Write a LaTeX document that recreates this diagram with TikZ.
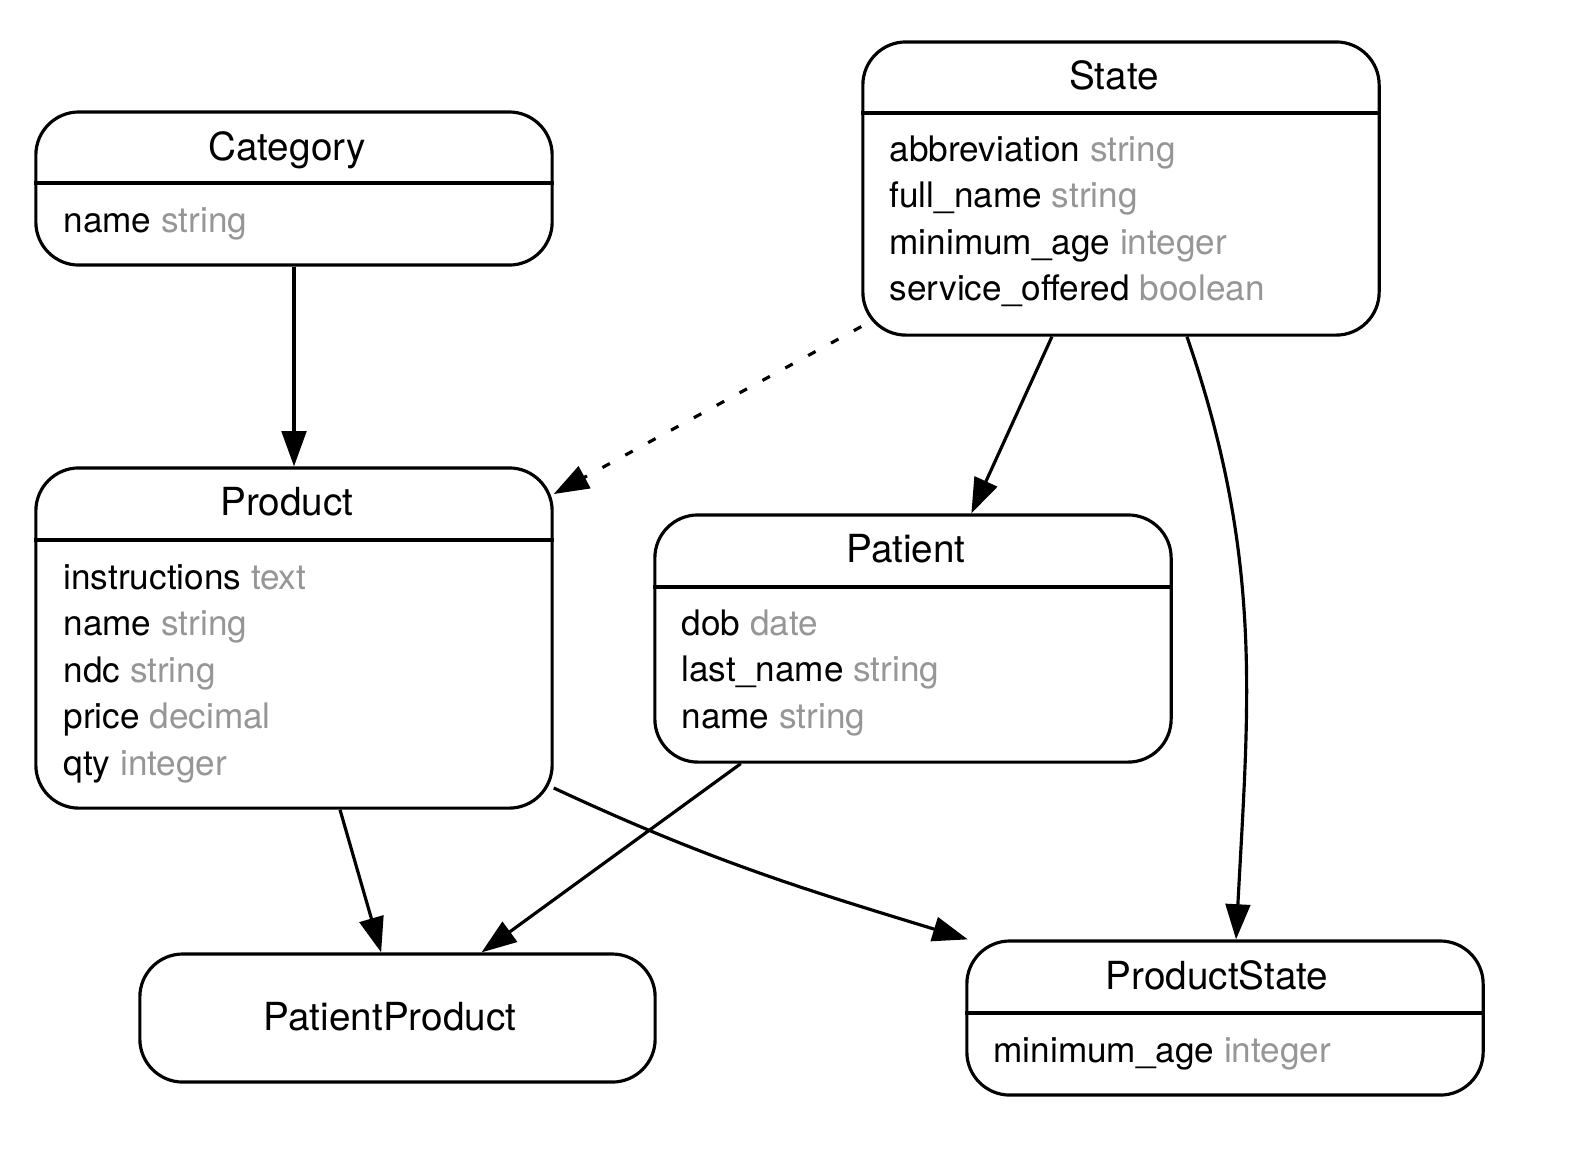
\documentclass[tikz,border=0pt]{standalone}
\usepackage{fontspec}
\setmainfont{TeX Gyre Heros}
\usetikzlibrary{arrows.meta,positioning}
\definecolor{typegray}{RGB}{150,150,150}
\begin{document}
\begin{tikzpicture}[
    x=0.01cm, y=-0.01cm, line width=0.9pt,
    entity/.style = { draw, rectangle, rounded corners=0.43cm, inner sep=0pt, minimum width=5.16cm },
    title/.style = { anchor=base, inner sep=0pt, font=\fontsize{11}{13}\selectfont },
    field/.style = { anchor=base west, inner sep=0pt, font=\fontsize{10}{12}\selectfont },
    link/.style = { -{Triangle[length=10pt,width=7pt]} }
    ]
\useasboundingbox (0,0) rectangle (1570,1150);
\node[entity, minimum height=1.53cm] (Category) at (294,188.5) {};
\node[entity, minimum height=2.93cm] (State) at (1121,188.5) {};
\node[entity, minimum height=3.40cm] (Product) at (294,638) {};
\node[entity, minimum height=2.47cm] (Patient) at (913,638.5) {};
\node[entity, minimum height=1.28cm, minimum width=5.15cm] (PatientProduct) at (397.5,1018) {};
\node[entity, minimum height=1.54cm] (ProductState) at (1225,1018) {};
%
\draw (Category.west |- 0,183) -- (Category.east |- 0,183);
\draw (State.west |- 0,113) -- (State.east |- 0,113);
\draw (Product.west |- 0,540) -- (Product.east |- 0,540);
\draw (Patient.west |- 0,587) -- (Patient.east |- 0,587);
\draw (ProductState.west |- 0,1013) -- (ProductState.east |- 0,1013);
%
\node[title] (CategoryTitle) at (287,160) {Category};
\node[title] (StateTitle) at (1114,89) {State};
\node[title] (ProductTitle) at (287,515) {Product};
\node[title] (PatientTitle) at (906,562) {Patient};
\node[title] (PatientProductTitle) at (390,1030) {PatientProduct};
\node[title] (ProductStateTitle) at (1217,989) {ProductState};
%
\node[field] (Category-0) at (62,232) {name \textcolor{typegray}{string}};
\foreach \Name/\Type [count=\i from 0] in {%
        abbreviation/string,
        full\_name/string,
        minimum\_age/integer,
        service\_offered/boolean%
    }
\node[field] (State-\i) at (888,161+46.5*\i) {\Name\ \textcolor{typegray}{\Type}};
\foreach \Name/\Type [count=\i from 0] in {%
        instructions/text,
        name/string,
        ndc/string,
        price/decimal,
        qty/integer%
    }
\node[field] (Product-\i) at (62,589+46.5*\i) {\Name\ \textcolor{typegray}{\Type}};
\foreach \Name/\Type [count=\i from 0] in {%
        dob/date,
        last\_name/string,
        name/string%
    }
\node[field] (Patient-\i) at (680,635+46.5*\i) {\Name\ \textcolor{typegray}{\Type}};
\node[field] (ProductState-0) at (992,1062) {minimum\_age \textcolor{typegray}{integer}};
%
\draw[link] (Category.south) to (Product.north);
\draw[link, dash pattern=on 2.4pt off 5pt] (State.208) to (Product.29);
\draw[link] (State.245) to (Patient.65);
\draw[link] (State.294) to[out=-71, in=87] (ProductState.82);
\draw[link] (Product.285.5) to (PatientProduct.104);
\draw[link] (Patient.216.5) to (PatientProduct.38);
\draw[link] (Product.330) to[out=-25, in=163] (ProductState.163);
\end{tikzpicture}
\end{document}
